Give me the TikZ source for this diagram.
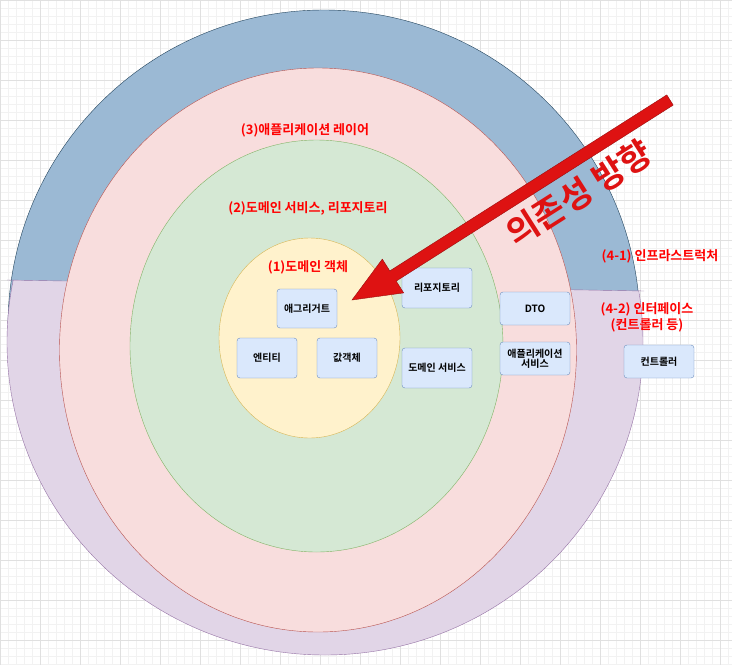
\documentclass[tikz,border=0pt]{standalone}
\usepackage{fontspec}
\newfontfamily\kr{Noto Sans CJK KR Bold}
\definecolor{bxfill}{RGB}{218,232,252}
\definecolor{bxdraw}{RGB}{108,142,191}
\definecolor{arr}{RGB}{222,18,18}
\begin{document}
\begin{tikzpicture}[x=1pt,y=-1pt,
  lbl/.style={text=red,font=\kr\fontsize{13}{16}\selectfont,align=center},
  bx/.style={draw=bxdraw,fill=bxfill,rounded corners=3pt,font=\kr\fontsize{10}{12}\selectfont,align=center,inner sep=1pt}]
\useasboundingbox (0,0) rectangle (732,665);
\fill[white] (0,0) rectangle (732,665);
\foreach \i in {0,8,...,736} {\draw[black!5] (\i,0) -- (\i,665);}
\foreach \i in {0,8,...,672} {\draw[black!5] (0,\i) -- (732,\i);}
\foreach \i in {0,40,...,720} {\draw[black!12] (\i,0) -- (\i,665);}
\foreach \i in {0,40,...,640} {\draw[black!12] (0,\i) -- (732,\i);}
% blue circle
\draw[fill={rgb,255:red,155;green,185;blue,212},draw={rgb,255:red,35;green,68;blue,93}] (324,326) circle (316);
% purple
\begin{scope}
\clip (7,280) -- (644,291) -- (700,291) -- (700,700) -- (0,700) -- (0,280) -- cycle;
\draw[fill={rgb,255:red,225;green,213;blue,231},draw={rgb,255:red,150;green,115;blue,166}] (325,342) ellipse (318 and 313);
\end{scope}
\draw[draw={rgb,255:red,150;green,115;blue,166}] (7,280) -- (644,291);
% pink, green, yellow
\draw[fill={rgb,255:red,248;green,221;blue,221},draw={rgb,255:red,184;green,84;blue,80}] (318,350) ellipse (258.5 and 282);
\draw[fill={rgb,255:red,213;green,232;blue,212},draw={rgb,255:red,130;green,179;blue,102}] (316.5,346) ellipse (186.5 and 206);
\draw[fill={rgb,255:red,255;green,242;blue,204},draw={rgb,255:red,214;green,182;blue,86}] (309.5,338) ellipse (90.5 and 100);
% labels
\node[lbl] (l3) at (305,130) {(3)애플리케이션 레이어};
\node[lbl] (l2) at (308,208) {(2)도메인 서비스, 리포지토리};
\node[lbl] (l1) at (308,267) {(1)도메인 객체};
\node[lbl] (l41) at (660,256) {(4-1) 인프라스트럭처};
\node[lbl] (l42) at (647,317) {(4-2) 인터페이스\\(컨트롤러 등)};
% boxes
\node[bx,minimum width=60,minimum height=39] (agg) at (307,308.5) {애그리거트};
\node[bx,minimum width=60,minimum height=40] (ent) at (267,358) {엔티티};
\node[bx,minimum width=60,minimum height=40] (val) at (347,358) {값객체};
\node[bx,minimum width=70,minimum height=40] (repo) at (437,288) {리포지토리};
\node[bx,minimum width=70,minimum height=40] (dsvc) at (437,368) {도메인 서비스};
\node[bx,minimum width=70,minimum height=33] (dto) at (535,308.5) {DTO};
\node[bx,minimum width=70,minimum height=33] (asvc) at (535,358.5) {애플리케이션\\[-2pt]서비스};
\node[bx,minimum width=70,minimum height=33] (ctl) at (659,361.5) {컨트롤러};
% arrow
\draw[fill=arr,draw=arr!70!black]
 (673.2,105.1) -- (396.2,281.1) -- (403.7,292.9) -- (352,300) -- (382.3,259.1) -- (389.8,270.9) -- (666.8,94.9) -- cycle;
\node[text=arr,font=\kr\fontsize{34}{36}\selectfont,rotate=32.4,inner sep=0pt] (dep) at (579,193) {의존성 방향};
\end{tikzpicture}
\end{document}
